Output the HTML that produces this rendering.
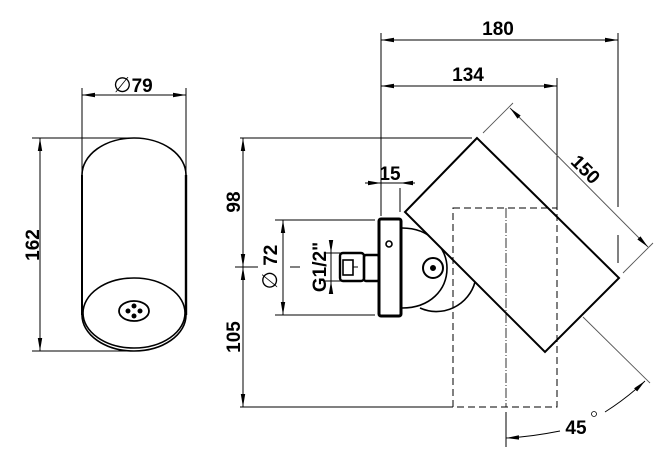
<!DOCTYPE html>
<html><head><meta charset="utf-8"><style>
html,body{margin:0;padding:0;background:#fff}
svg{display:block}
text{font-family:"Liberation Sans",Arial,sans-serif;font-weight:bold;font-size:19px;fill:#000}
</style></head><body>
<svg width="668" height="456" viewBox="0 0 668 456" xmlns="http://www.w3.org/2000/svg">
<defs>
<marker id="a" markerWidth="14" markerHeight="8" refX="13" refY="4" orient="auto-start-reverse" markerUnits="userSpaceOnUse">
<path d="M0,1.8 L13,4 L0,6.2 Z" fill="#000"/>
</marker>
<clipPath id="c"><polygon points="300,107 700,507 300,507"/></clipPath>
</defs>
<g stroke="#000" fill="none" stroke-width="1">
<!-- LEFT VIEW -->
<line x1="82" y1="88" x2="82" y2="178"/>
<line x1="186" y1="88" x2="186" y2="178"/>
<line x1="82" y1="95" x2="186" y2="95" marker-start="url(#a)" marker-end="url(#a)"/>
<line x1="32" y1="138" x2="130" y2="138"/>
<line x1="32" y1="351" x2="140" y2="351"/>
<line x1="40" y1="138" x2="40" y2="351" marker-start="url(#a)" marker-end="url(#a)"/>
<path d="M82,175 A52,37 0 0 1 186,175" stroke-width="1.6"/>
<line x1="82" y1="175" x2="82" y2="315" stroke-width="2"/>
<line x1="186" y1="175" x2="186" y2="315" stroke-width="2.4"/>
<ellipse cx="134" cy="313" rx="51" ry="35" stroke-width="1.6"/>
<path d="M82,315 A52,36 0 0 0 186,315" stroke-width="1.6"/>
<ellipse cx="134" cy="311" rx="15" ry="10" stroke-width="1.8"/>
<g fill="#000" stroke="none">
<circle cx="134" cy="306" r="2.5"/><circle cx="134" cy="316" r="2.5"/>
<circle cx="128" cy="311" r="2.5"/><circle cx="140" cy="311" r="2.5"/>
</g>
<!-- RIGHT VIEW dims -->
<line x1="381" y1="33" x2="381" y2="216"/>
<line x1="618" y1="33" x2="618" y2="207"/>
<line x1="618" y1="235" x2="618" y2="263"/>
<line x1="381" y1="40" x2="618" y2="40" marker-start="url(#a)" marker-end="url(#a)"/>
<line x1="557" y1="78" x2="557" y2="208"/>
<line x1="381" y1="86" x2="557" y2="86" marker-start="url(#a)" marker-end="url(#a)"/>
<line x1="240" y1="138" x2="472" y2="138"/>
<line x1="240" y1="407" x2="453" y2="407"/>
<line x1="243" y1="138" x2="243" y2="267" marker-start="url(#a)" marker-end="url(#a)"/>
<line x1="243" y1="267" x2="243" y2="407" marker-start="url(#a)" marker-end="url(#a)"/>
<line x1="235" y1="267" x2="258" y2="267"/>
<line x1="290" y1="267" x2="300" y2="267"/>
<line x1="275" y1="220" x2="375" y2="220"/>
<line x1="275" y1="315" x2="375" y2="315"/>
<line x1="283" y1="220" x2="283" y2="315" marker-start="url(#a)" marker-end="url(#a)"/>
<line x1="325" y1="253" x2="345" y2="253"/>
<line x1="325" y1="281" x2="345" y2="281"/>
<line x1="331" y1="240" x2="331" y2="253" marker-end="url(#a)"/>
<line x1="331" y1="294" x2="331" y2="281" marker-end="url(#a)"/>
<line x1="331" y1="253" x2="331" y2="281"/>
<line x1="400" y1="188" x2="400" y2="212"/>
<line x1="365" y1="183" x2="381" y2="183" marker-end="url(#a)"/>
<line x1="415" y1="183" x2="400" y2="183" marker-end="url(#a)"/>
<line x1="381" y1="183" x2="400" y2="183"/>
<!-- 150 dim -->
<g stroke="#555" stroke-width="0.9">
<line x1="483" y1="133" x2="513" y2="103"/>
<line x1="623" y1="273" x2="653" y2="243"/>
<line x1="583" y1="317" x2="650" y2="383"/>
</g>
<line x1="510" y1="108" x2="648" y2="247" stroke="#555" marker-start="url(#a)" marker-end="url(#a)"/>
<!-- 45 arc -->
<path d="M560,431 Q530,437 506,438" marker-end="url(#a)" stroke-width="0.9"/>
<path d="M605,412 Q627,398 645,381" marker-end="url(#a)" stroke-width="0.9"/>
<!-- dashed rect -->
<rect x="453" y="208" width="104" height="199" stroke-dasharray="7,4"/>
<line x1="506" y1="208" x2="506" y2="407" stroke-dasharray="10,2,1,2" stroke-width="0.8"/>
<line x1="506" y1="412" x2="506" y2="447"/>
<!-- fixture -->
<g clip-path="url(#c)">
<path d="M402,228 C430,228 447,248 447,268 C447,290 430,308 402,308" stroke-width="1.6"/>
<path d="M475,282 A40,40 0 0 1 420,308" stroke-width="1.6"/>
</g>
<polygon points="477,138 405,212 545,352 619,278" stroke-width="2"/>
<rect x="379" y="219" width="22" height="97" rx="2" stroke-width="3" fill="#fff"/>
<circle cx="389" cy="244" r="3" stroke-width="1.6"/>
<circle cx="433" cy="268" r="10" stroke-width="2"/>
<circle cx="433" cy="268" r="2.5" fill="#000"/>
<rect x="364" y="255" width="15" height="26" rx="2" stroke-width="2.4"/>
<rect x="340" y="253" width="24" height="28" rx="3" stroke-width="2.4"/>
<rect x="343" y="260" width="10" height="15" stroke-width="1.6"/>
<line x1="353" y1="267" x2="358" y2="267"/>
</g>
<!-- text -->
<text x="133" y="92" text-anchor="middle"><tspan font-weight="normal" font-size="21">∅</tspan>79</text>
<text transform="translate(39,245) rotate(-90)" text-anchor="middle">162</text>
<text x="498" y="35" text-anchor="middle">180</text>
<text x="468" y="81" text-anchor="middle">134</text>
<text x="390" y="180" text-anchor="middle">15</text>
<text transform="translate(240,202) rotate(-90)" text-anchor="middle">98</text>
<text transform="translate(240,337) rotate(-90)" text-anchor="middle">105</text>
<text transform="translate(277,267) rotate(-90)" text-anchor="middle"><tspan font-weight="normal" font-size="21">∅</tspan> 72</text>
<text transform="translate(326,267) rotate(-90)" text-anchor="middle">G1/2"</text>
<text transform="translate(581,174) rotate(45)" text-anchor="middle">150</text>
<text x="576" y="434" text-anchor="middle">45</text>
<circle cx="594" cy="414" r="2.5" fill="none" stroke="#000" stroke-width="0.8"/>
</svg>
</body></html>
